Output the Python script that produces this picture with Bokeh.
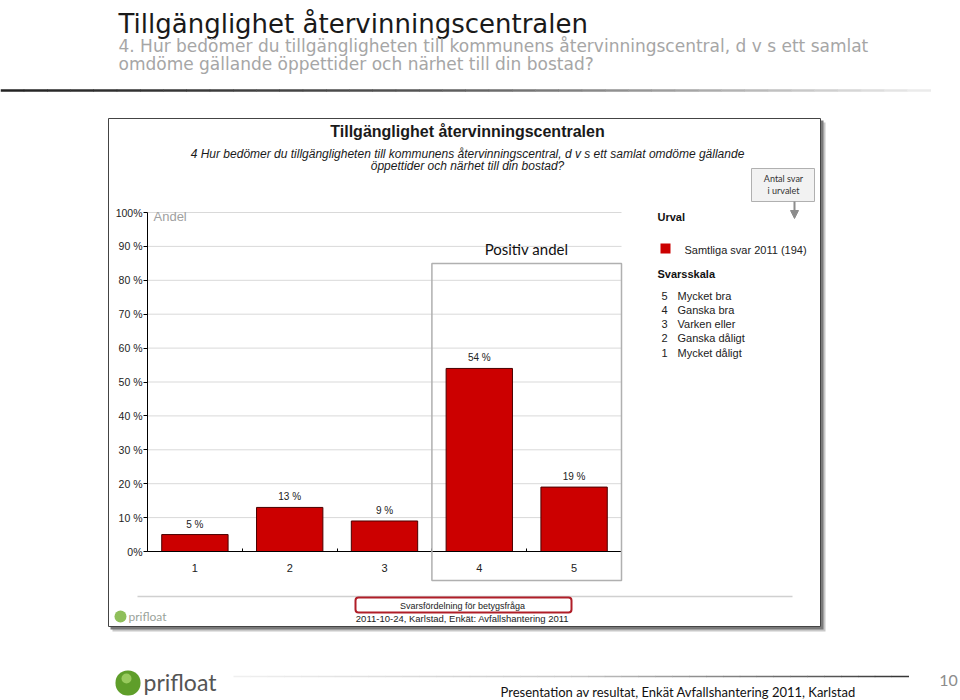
from bokeh.plotting import figure
from bokeh.models import (Range1d, FixedTicker, Label, LabelSet, BoxAnnotation,
                          Arrow, NormalHead, ColumnDataSource, LinearAxis)
from bokeh.core.properties import value
from bokeh.embed import file_html
from bokeh.resources import INLINE

# ---------------- data ----------------
categories = [1, 2, 3, 4, 5]
x_tick_labels = ["1", "2", "3", "4", "5"]
values = [5, 13, 9, 54, 19]
value_labels = [f"{v} %" for v in values]
y_ticks = [0, 10, 20, 30, 40, 50, 60, 70, 80, 90, 100]
y_tick_labels = ["0%", "10 %", "20 %", "30 %", "40 %", "50 %", "60 %", "70 %", "80 %", "90 %", "100%"]
positive_categories = [4, 5]
scale_numbers = ["5", "4", "3", "2", "1"]
scale_labels = ["Mycket bra", "Ganska bra", "Varken eller", "Ganska dåligt", "Mycket dåligt"]
series_name = "Samtliga svar 2011 (194)"

slide_title = "Tillgänglighet återvinningscentralen"
slide_sub = ["4. Hur bedömer du tillgängligheten till kommunens återvinningscentral, d v s ett samlat",
             "omdöme gällande öppettider och närhet till din bostad?"]
chart_title = "Tillgänglighet återvinningscentralen"
chart_sub = ["4 Hur bedömer du tillgängligheten till kommunens återvinningscentral, d v s ett samlat omdöme gällande",
             "öppettider och närhet till din bostad?"]

# ---------------- layout helpers (picture pixels -> data units) ----------------
W, H = 960, 700
FL, FR, FT, FB = 147, 621, 212, 551          # plot area edges in picture pixels
X_MIN, X_MAX = categories[0] - 0.5, categories[-1] + 0.5
Y_MIN, Y_MAX = y_ticks[0], y_ticks[-1]
PX_X = (FR - FL) / (X_MAX - X_MIN)
PX_Y = (FB - FT) / (Y_MAX - Y_MIN)


def dx(X):
    return X_MIN + (X - FL) / PX_X


def dy(Y):
    return Y_MIN + (FB - Y) / PX_Y


ARIAL = "Liberation Sans"
SANS = "Lato"
WIDE = "DejaVu Sans"

p = figure(width=W, height=H, output_backend="svg", toolbar_location=None,
           x_range=Range1d(dx(0), dx(W)), y_range=Range1d(dy(H), dy(0)),
           x_axis_type=None, y_axis_type=None,
           min_border_left=0, min_border_right=0, min_border_top=0, min_border_bottom=0)
p.title.visible = False
p.outline_line_color = None
p.background_fill_color = "white"
p.border_fill_color = "white"
p.xgrid.visible = False
p.ygrid.visible = False


def box(X0, Y0, X1, Y1, **kw):
    kw.setdefault("fill_alpha", 1)
    kw.setdefault("line_alpha", 1)
    b = BoxAnnotation(left=dx(X0), right=dx(X1), top=dy(Y0), bottom=dy(Y1), **kw)
    p.add_layout(b)
    return b


def label(X, Y, text, size, color="#222", font=ARIAL, style="normal", align="left", baseline="middle"):
    p.add_layout(Label(x=dx(X), y=dy(Y), text=text, text_font_size=f"{size}px", text_color=color,
                       text_font=font, text_font_style=style, text_align=align, text_baseline=baseline))


def hexmix(c0, c1, t):
    a = [int(c0[i:i + 2], 16) for i in (1, 3, 5)]
    b = [int(c1[i:i + 2], 16) for i in (1, 3, 5)]
    return "#" + "".join(f"{int(round(a[k] + (b[k] - a[k]) * t)):02x}" for k in range(3))


def gradient_line(X0, X1, Y, th, stops, n=40):
    step = (X1 - X0) / n
    for i in range(n):
        t = (i + 0.5) / n
        c = stops[-1][1]
        for j in range(len(stops) - 1):
            if stops[j][0] <= t <= stops[j + 1][0]:
                tt = (t - stops[j][0]) / (stops[j + 1][0] - stops[j][0])
                c = hexmix(stops[j][1], stops[j + 1][1], tt)
                break
        box(X0 + i * step, Y - th / 2, X0 + (i + 1) * step + 0.5, Y + th / 2,
            fill_color=c, line_color=None, level="image")


# ---------------- slide header ----------------
label(118, 23, slide_title, 26, color="#1a1a1a", font=WIDE, baseline="alphabetic")
label(118, 45, slide_sub[0], 17, color="#a6a6a6", font=WIDE, baseline="alphabetic")
label(118, 63, slide_sub[1], 17, color="#a6a6a6", font=WIDE, baseline="alphabetic")
gradient_line(0, 930, 90, 2.5, [(0, "#222222"), (0.45, "#555555"), (1, "#eeeeee")])

# ---------------- chart card ----------------
box(112, 122, 825, 631, fill_color="#c8c8c8", line_color=None, level="image")
box(110, 120, 823, 629, fill_color="#7a7a7a", line_color=None, level="image")
box(108, 118, 820, 626, fill_color="white", line_color="#444444", line_width=1, level="image")

label(467, 131, chart_title, 16, color="#1a1a1a", style="bold", align="center")
label(467, 153, chart_sub[0], 12, color="#1a1a1a", style="italic", align="center")
label(467, 165, chart_sub[1], 12, color="#1a1a1a", style="italic", align="center")

# "Antal svar i urvalet" callout
box(751, 168, 814, 201, fill_color="#f2f2f2", line_color="#b0b0b0", line_width=1, level="image")
label(783, 178, "Antal svar", 9, color="#333", font=SANS, align="center")
label(783, 190, "i urvalet", 9, color="#333", font=SANS, align="center")
p.add_layout(Arrow(x_start=dx(794), y_start=dy(201), x_end=dx(794), y_end=dy(218),
                   line_color="#8c8c8c", line_width=2,
                   end=NormalHead(size=8, fill_color="#8c8c8c", line_color="#8c8c8c")))

label(153, 216, "Andel", 13, color="#a0a0a0")

# ---------------- grid & axes ----------------
p.segment(x0=[X_MIN] * len(y_ticks), x1=[X_MAX] * len(y_ticks), y0=y_ticks, y1=y_ticks,
          line_color="#d9d9d9", line_width=1, level="underlay")

ya = LinearAxis(fixed_location=X_MIN, bounds=(Y_MIN, Y_MAX))
ya.ticker = FixedTicker(ticks=y_ticks)
ya.major_label_overrides = {t: l for t, l in zip(y_ticks, y_tick_labels)}
ya.major_label_text_font = ARIAL
ya.major_label_text_font_size = "10.5px"
ya.major_label_text_color = "#222"
ya.axis_line_color = "black"
ya.major_tick_line_color = "black"
ya.major_tick_in = 0
ya.major_tick_out = 4
ya.minor_tick_line_color = None
ya.major_label_standoff = 1
p.add_layout(ya, "left")

xa = LinearAxis(fixed_location=Y_MIN, bounds=(X_MIN, X_MAX))
xa.ticker = FixedTicker(ticks=categories,
                        minor_ticks=[c - 0.5 for c in categories] + [categories[-1] + 0.5])
xa.major_label_overrides = {c: l for c, l in zip(categories, x_tick_labels)}
xa.major_label_text_font = ARIAL
xa.major_label_text_font_size = "11px"
xa.major_label_text_color = "#222"
xa.axis_line_color = "black"
xa.major_tick_line_color = None
xa.minor_tick_line_color = "black"
xa.minor_tick_in = 3
xa.minor_tick_out = 0
xa.major_label_standoff = 6
p.add_layout(xa, "below")

# ---------------- bars ----------------
src = ColumnDataSource(dict(x=categories, top=values, lab=value_labels))
p.vbar(x="x", top="top", bottom=0, width=0.7, source=src,
       fill_color="#cc0000", line_color="#4a0000", line_width=1)
p.add_layout(LabelSet(x="x", y="top", text="lab", source=src, y_offset=5,
                      text_align="center", text_baseline="bottom",
                      text_font=value(ARIAL), text_font_size=value("10px"), text_color="#222"))

# Positive share box around categories 4-5
p.add_layout(BoxAnnotation(left=min(positive_categories) - 0.5, right=max(positive_categories) + 0.5,
                           top=dy(263), bottom=dy(580), fill_color=None,
                           line_color="#b0b0b0", line_alpha=1, line_width=1.5, level="annotation"))
label(526, 248, "Positiv andel", 15, color="#111", font=SANS, align="center")

# ---------------- legend / scale ----------------
label(657, 216, "Urval", 11, color="#111", style="bold")
box(660, 243, 670, 253, fill_color="#cc0000", line_color=None, level="annotation")
label(684, 249, series_name, 11, color="#222")
label(657, 273, "Svarsskala", 11, color="#111", style="bold")
for i, (n, t) in enumerate(zip(scale_numbers, scale_labels)):
    Y = 295 + i * 14.3
    label(664, Y, n, 11, color="#222", align="center")
    label(677, Y, t, 11, color="#222")

# ---------------- chart footer ----------------
box(137, 595.2, 792, 596.8, fill_color="#d0d0d0", line_color=None, level="image")
box(355, 597, 571, 612, fill_color=None, line_color="#b01e28", line_width=2, border_radius=3,
    level="annotation")
label(462, 605.5, "Svarsfördelning för betygsfråga", 9, color="#222", align="center")
label(462, 618, "2011-10-24, Karlstad, Enkät: Avfallshantering 2011", 9.5, color="#222", align="center")
box(114, 610, 126, 622, fill_color="#8fbf5a", line_color=None, border_radius=6, level="annotation")
label(128, 616, "prifloat", 12, color="#9aa39a", font=SANS)

# ---------------- slide footer ----------------
box(115, 670, 140, 695, fill_color="#5f9e2a", line_color=None, border_radius=12, level="annotation")
box(121, 673, 131, 683, fill_color="#a6d46a", fill_alpha=0.8, line_color=None, border_radius=5,
    level="annotation")
label(143, 681, "prifloat", 23, color="#555555", font=SANS)
gradient_line(233, 908, 676, 1.5, [(0, "#f0f0f0"), (0.5, "#c8c8c8"), (1, "#333333")])
label(500, 691, "Presentation av resultat, Enkät Avfallshantering 2011, Karlstad", 13, color="#111",
      font=SANS)
label(948, 680, "10", 16, color="#8c8c8c", font=SANS, align="center")

open("out.html", "w").write(file_html(p, INLINE))
